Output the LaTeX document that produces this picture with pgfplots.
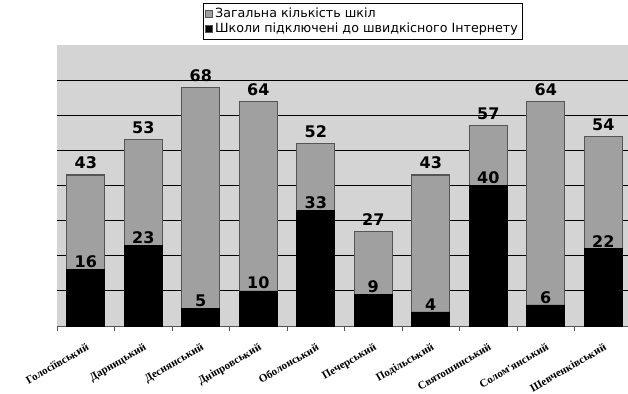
\documentclass[border=0pt]{standalone}
\usepackage{fontspec}
\setmainfont{DejaVu Sans}
\newfontfamily\catfont{Liberation Serif}
\usepackage{pgfplots}
\pgfplotsset{compat=1.18}
\definecolor{bg}{HTML}{D4D4D4}
\definecolor{barg}{HTML}{A0A0A0}
\definecolor{edge}{HTML}{555555}
\begin{document}
\begin{tikzpicture}
\path[use as bounding box] (0,0) rectangle (471pt,294.75pt);
\begin{axis}[at={(42.75pt,50.25pt)}, anchor=south west, scale only axis,
  width=431.25pt, height=210.75pt,
  xmin=-0.5, xmax=9.5, ymin=0, ymax=80,
  /pgf/number format/assume math mode=true,
  ybar, bar width=28.5pt, bar shift=0pt,
  axis x line*=bottom, axis y line*=left,
  x axis line style={draw=edge, line width=0.5pt},
  y axis line style={draw=none},
  ytick={10,20,...,70}, yticklabels={}, major y tick style={draw=none},
  ymajorgrids, grid style={black, line width=0.7pt},
  axis background/.style={fill=bg},
  xtick={0,...,9},
  xticklabels={Голосіївський,Дарницький,Деснянський,Дніпровський,Оболонський,Печерський,Подільський,Святошинський,Солом'янський,Шевченківський},
  major x tick style={draw=none},
  minor xtick={-0.5,0.5,...,9.5},
  minor x tick style={draw=edge, line width=0.5pt},
  tick align=outside, minor tick length=4pt,
  xticklabel style={rotate=30, anchor=north east, font=\catfont\bfseries\fontsize{8.3}{9}\selectfont, inner sep=1pt, xshift=-3pt, yshift=-6pt},
  legend style={at={(0.532,1.02)}, anchor=south, draw=black, line width=0.5pt,
    font=\fontsize{9.5}{10}\selectfont, inner sep=1.5pt, row sep=-1.5pt},
  legend cell align=left,
  legend image code/.code={\draw[#1,draw=edge,line width=0.4pt] (0pt,-2.5pt) rectangle (5pt,2.5pt);},
  nodes near coords,
  every node near coord/.append style={font=\bfseries\fontsize{12}{12}\selectfont, text=black, inner sep=1pt},
]
\addplot[fill=barg, draw=edge, line width=0.8pt,
  every node near coord/.append style={yshift=3pt}]
  coordinates {(0,43) (1,53) (2,68) (3,64) (4,52) (5,27) (6,43) (7,57) (8,64) (9,54)};
\addplot[fill=black, draw=black, line width=0.5pt]
  coordinates {(0,16) (1,23) (2,5) (3,10) (4,33) (5,9) (6,4) (7,40) (8,6) (9,22)};
\legend{Загальна кількість шкіл, Школи підключені до швидкісного Інтернету}
\end{axis}
\end{tikzpicture}
\end{document}
